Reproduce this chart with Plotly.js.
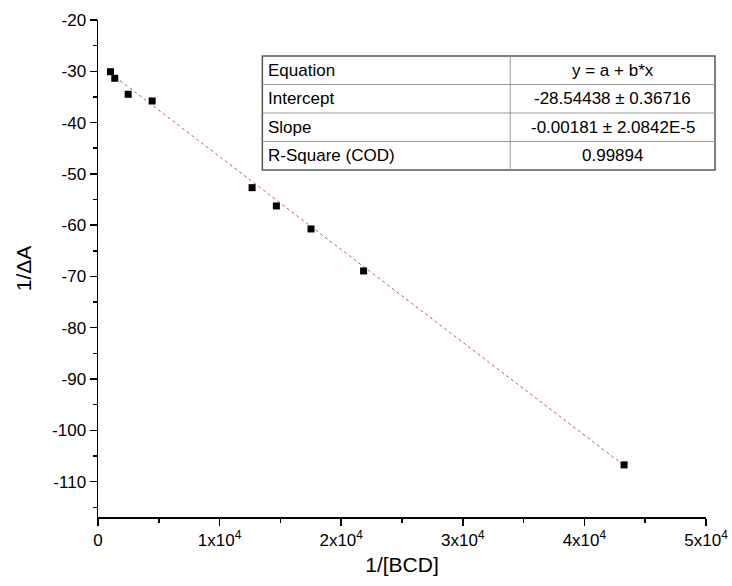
<!DOCTYPE html>
<html>
<head>
<meta charset="utf-8">
<script src="https://cdn.plot.ly/plotly-3.0.1.min.js"></script>
<style>html,body{margin:0;padding:0;background:#fff;}#chart{width:732px;height:586px;}</style>
</head>
<body>
<div id="chart"></div>
<script>
// Data
const invBCD = [1027, 1380, 2481, 4454, 12671, 14668, 17519, 21841, 43263];
const invDeltaA = [-30.08, -31.36, -34.48, -35.79, -52.69, -56.26, -60.74, -68.93, -106.74];

// Linear fit results (from the table)
const intercept = -28.54438;
const slope = -0.00181;
const fitRange = [1027, 43263];

const tableLabels = ["Equation", "Intercept", "Slope", "R-Square (COD)"];
const tableValues = ["y = a + b*x", "-28.54438 ± 0.36716", "-0.00181 ± 2.0842E-5", "0.99894"];

const xTickVals = [0, 10000, 20000, 30000, 40000, 50000];
const xTickText = ["0", "1x10<sup>4</sup>", "2x10<sup>4</sup>", "3x10<sup>4</sup>", "4x10<sup>4</sup>", "5x10<sup>4</sup>"];
const yTickVals = [-110, -100, -90, -80, -70, -60, -50, -40, -30, -20];
const yTickText = ["-110", "-100", "-90", "-80", "-70", "-60", "-50", "-40", "-30", "-20"];

const fitY = fitRange.map(x => intercept + slope * x);

const FONT = 'Liberation Sans, Arial, sans-serif';

const traces = [
  {
    x: fitRange, y: fitY, mode: 'lines', type: 'scatter',
    line: {color: '#c8507a', width: 1, dash: 'dot'}, hoverinfo: 'skip'
  },
  {
    x: invBCD, y: invDeltaA, mode: 'markers', type: 'scatter',
    marker: {symbol: 'square', size: 7, color: '#000'}
  }
];

// Table geometry in paper coords
const tL = 0.2703, tR = 1.0148, tMid = 0.678, tTop = 0.9276, tBot = 0.6982;
const rowLines = [0.8702, 0.8129, 0.7555];
const rowCenters = [0.8989, 0.8416, 0.7842, 0.7269];

const shapes = [
  {type: 'rect', xref: 'paper', yref: 'paper', x0: tL, x1: tR, y0: tBot, y1: tTop,
   line: {color: '#555', width: 1.5}, fillcolor: '#fff'},
  {type: 'line', xref: 'paper', yref: 'paper', x0: tMid, x1: tMid, y0: tBot, y1: tTop,
   line: {color: '#999', width: 1}}
];
rowLines.forEach(y => shapes.push({type: 'line', xref: 'paper', yref: 'paper', x0: tL, x1: tR, y0: y, y1: y,
  line: {color: '#999', width: 1}}));

const annotations = [];
tableLabels.forEach((t, i) => annotations.push({xref: 'paper', yref: 'paper', x: 0.2769, y: rowCenters[i],
  xanchor: 'left', yanchor: 'middle', text: t, showarrow: false,
  font: {family: FONT, size: 17, color: '#000'}}));
tableValues.forEach((t, i) => annotations.push({xref: 'paper', yref: 'paper', x: (tMid + tR) / 2, y: rowCenters[i],
  xanchor: 'center', yanchor: 'middle', text: t, showarrow: false,
  font: {family: FONT, size: 17, color: '#000'}}));

const layout = {
  width: 732, height: 586,
  margin: {l: 97.5, r: 26, t: 20, b: 69},
  paper_bgcolor: '#fff', plot_bgcolor: '#fff',
  showlegend: false,
  font: {family: FONT, color: '#000', size: 16},
  xaxis: {
    range: [0, 50000], showgrid: false, zeroline: false,
    showline: true, linecolor: '#000', linewidth: 1.5,
    ticks: 'outside', ticklen: 7, tickwidth: 1.5, tickcolor: '#000',
    tickvals: xTickVals, ticktext: xTickText,
    tickfont: {family: FONT, size: 17, color: '#000'},
    minor: {ticks: 'outside', dtick: 5000, ticklen: 4, tickwidth: 1.5, tickcolor: '#000', showgrid: false},
    title: {text: '1/[BCD]', font: {family: FONT, size: 21, color: '#000'}, standoff: 8}
  },
  yaxis: {
    range: [-116.9, -20], showgrid: false, zeroline: false,
    showline: true, linecolor: '#000', linewidth: 1.5,
    ticks: 'outside', ticklen: 7, tickwidth: 1.5, tickcolor: '#000',
    tickvals: yTickVals, ticktext: yTickText,
    tickfont: {family: FONT, size: 17, color: '#000'},
    minor: {ticks: 'outside', dtick: 5, ticklen: 4, tickwidth: 1.5, tickcolor: '#000', showgrid: false},
    title: {text: '1/ΔA', font: {family: FONT, size: 21, color: '#000'}, standoff: 14}
  },
  shapes: shapes,
  annotations: annotations
};

Plotly.newPlot('chart', traces, layout, {displayModeBar: false, staticPlot: true});
</script>
</body>
</html>
